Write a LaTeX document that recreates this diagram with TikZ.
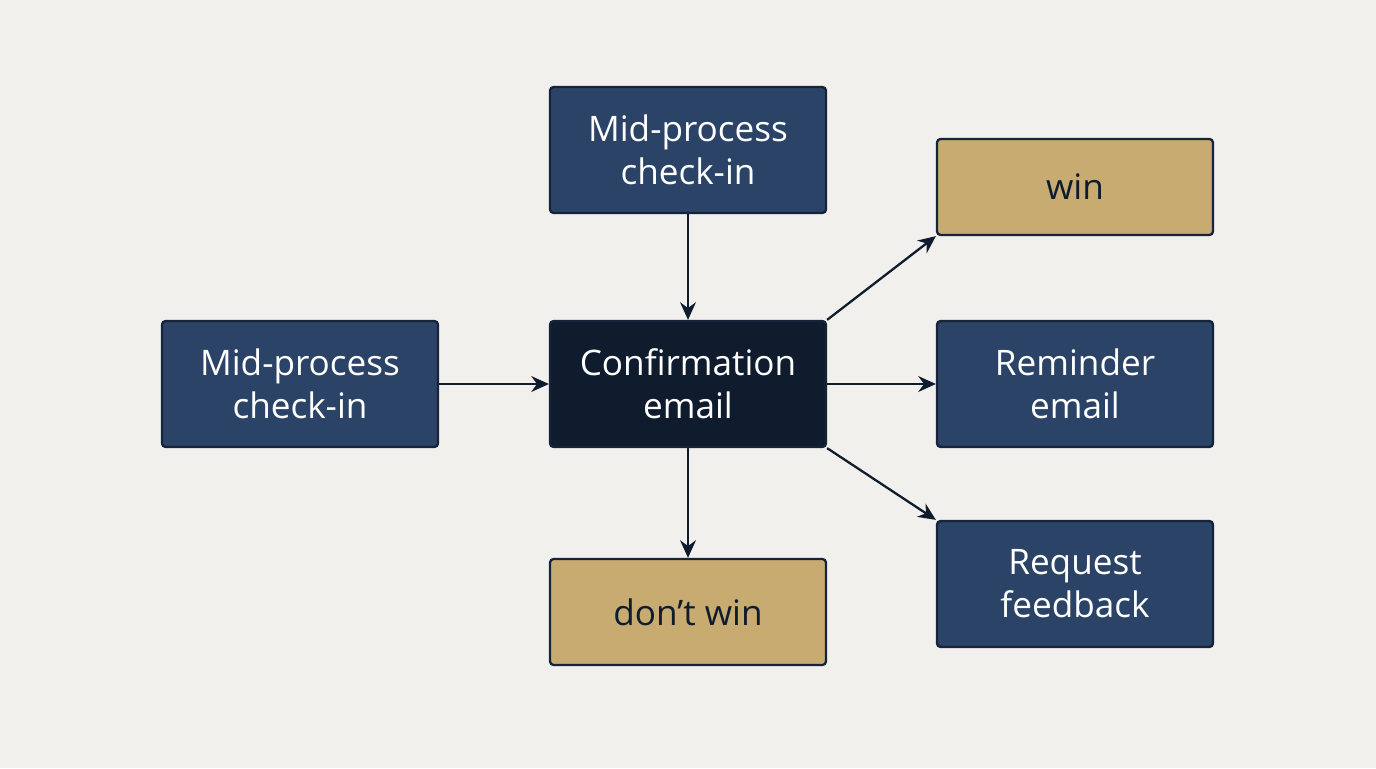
\documentclass[tikz,border=0pt]{standalone}
\usepackage{fontspec}
\setmainfont{Open Sans}
\usetikzlibrary{arrows.meta}
\definecolor{bgc}{HTML}{F1F0EC}
\definecolor{navy}{HTML}{2B4366}
\definecolor{deep}{HTML}{0F1C2E}
\definecolor{tan}{HTML}{C8AB70}
\definecolor{edge}{HTML}{15243A}
\tikzset{
  box/.style={draw=edge, line width=1.3pt, rounded corners=2pt, minimum width=5.52cm, minimum height=2.52cm, align=center, font=\fontsize{20}{24.5}\selectfont, text=white, fill=navy},
  goal/.style={box, fill=tan, text=deep, minimum height=1.98cm},
  arr/.style={-{Stealth[length=10pt,width=9pt]}, line width=1.3pt, draw=deep}
}
\begin{document}
\begin{tikzpicture}[x=0.02cm,y=-0.02cm]
\fill[bgc] (0,0) rectangle (1376,768);

\node[box] (top) at (688,150) {Mid-process\\check-in};
\node[box] (left) at (300,384) {Mid-process\\check-in};
\node[box, fill=deep] (conf) at (688,384) {Confirmation\\email};
\node[goal, minimum height=1.92cm] (win) at (1075,187) {win};
\node[box] (remind) at (1075,384) {Reminder\\email};
\node[box] (req) at (1075,584) {Request\\feedback};
\node[goal, minimum height=2.12cm] (lose) at (688,612) {don’t win};

\draw[arr] (top) -- (conf);
\draw[arr] (left) -- (conf);
\draw[arr] (conf.north east) -- (win.south west);
\draw[arr] (conf) -- (remind);
\draw[arr] (conf.south east) -- (req.north west);
\draw[arr] (conf) -- (lose);

\end{tikzpicture}
\end{document}
